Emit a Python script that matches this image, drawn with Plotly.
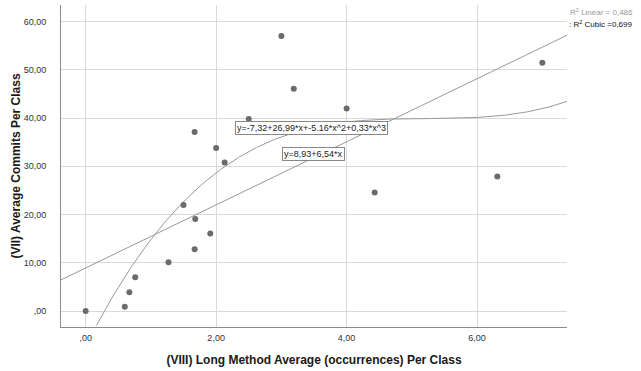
import numpy as np
import plotly.graph_objects as go

# Data points (Long Method avg occurrences, avg commits per class)
long_method = [0.00, 0.60, 0.67, 0.76, 1.27, 1.67, 1.91, 1.68, 1.50, 2.13,
               2.00, 1.67, 2.50, 3.00, 3.19, 4.00, 4.43, 6.31, 7.00]
avg_commits = [0.0, 0.9, 3.9, 7.0, 10.1, 12.8, 16.1, 19.1, 22.0, 30.8,
               33.8, 37.1, 39.8, 57.0, 46.1, 42.0, 24.6, 27.9, 51.5]

# Fit coefficients as reported
linear_coef = [8.93, 6.54]
cubic_coef = [-7.32, 26.99, -5.16, 0.33]

x_ticks = [0, 2, 4, 6]
x_ticktext = [",00", "2,00", "4,00", "6,00"]
y_ticks = [0, 10, 20, 30, 40, 50, 60]
y_ticktext = [",00", "10,00", "20,00", "30,00", "40,00", "50,00", "60,00"]

x_range = [-0.378, 7.378]
y_range = [-3.31, 63.45]

xs = np.linspace(x_range[0], x_range[1], 400)
lin_y = linear_coef[0] + linear_coef[1] * xs
cub_y = cubic_coef[0] + cubic_coef[1] * xs + cubic_coef[2] * xs**2 + cubic_coef[3] * xs**3
mask = cub_y >= y_range[0]

FONT = "Liberation Sans, Arial, sans-serif"
fig = go.Figure()
fig.add_trace(go.Scatter(x=xs, y=lin_y, mode="lines",
                         line=dict(color="#999999", width=1), hoverinfo="skip"))
fig.add_trace(go.Scatter(x=xs[mask], y=cub_y[mask], mode="lines",
                         line=dict(color="#999999", width=1), hoverinfo="skip"))
fig.add_trace(go.Scatter(x=long_method, y=avg_commits, mode="markers",
                         marker=dict(color="#6b6b6b", size=6)))

fig.add_annotation(x=3.458, y=37.97, xref="x", yref="y", showarrow=False,
                   text="y=-7,32+26,99*x+-5.16*x^2+0,33*x^3",
                   font=dict(family=FONT, size=9, color="#222222"),
                   bgcolor="white", bordercolor="#888888", borderwidth=1, borderpad=1)
fig.add_annotation(x=3.496, y=32.6, xref="x", yref="y", showarrow=False,
                   text="y=8,93+6,54*x",
                   font=dict(family=FONT, size=9, color="#222222"),
                   bgcolor="white", bordercolor="#888888", borderwidth=1, borderpad=1)
fig.add_annotation(x=1.0, y=1.0, xref="paper", yref="paper", xanchor="left", yanchor="middle",
                   xshift=1, yshift=-7, showarrow=False,
                   text="R<sup>2</sup> Linear = 0,486",
                   font=dict(family=FONT, size=8, color="#999999"))
fig.add_annotation(x=1.0, y=1.0, xref="paper", yref="paper", xanchor="left", yanchor="middle",
                   xshift=0, yshift=-19, showarrow=False,
                   text=": R<sup>2</sup> Cubic =0,699",
                   font=dict(family=FONT, size=8, color="#111111"))

fig.update_layout(
    width=641, height=371,
    margin=dict(l=61, r=73.5, t=5, b=43.7),
    plot_bgcolor="white", paper_bgcolor="white",
    showlegend=False,
    font=dict(family=FONT),
    xaxis=dict(range=x_range, tickvals=x_ticks, ticktext=x_ticktext,
               showgrid=True, gridcolor="#d9d9d9", gridwidth=1,
               zeroline=False, showline=True, linecolor="#8c8c8c", linewidth=1,
               ticks="", tickfont=dict(size=9, color="#333333"),
               ticklabelstandoff=2,
               title=dict(text="<b>(VIII) Long Method Average (occurrences) Per Class</b>",
                          font=dict(size=12, color="#1a1a1a"), standoff=13)),
    yaxis=dict(range=y_range, tickvals=y_ticks, ticktext=y_ticktext,
               showgrid=True, gridcolor="#d9d9d9", gridwidth=1,
               zeroline=False, showline=True, linecolor="#8c8c8c", linewidth=1,
               ticks="", tickfont=dict(size=9, color="#333333"),
               ticklabelstandoff=12,
               title=dict(text="<b>(VII) Average Commits Per Class</b>",
                          font=dict(size=12, color="#1a1a1a"), standoff=0)),
)

fig.write_html("out.html", config={"displayModeBar": False},
               post_script="document.body.style.margin='0';")
